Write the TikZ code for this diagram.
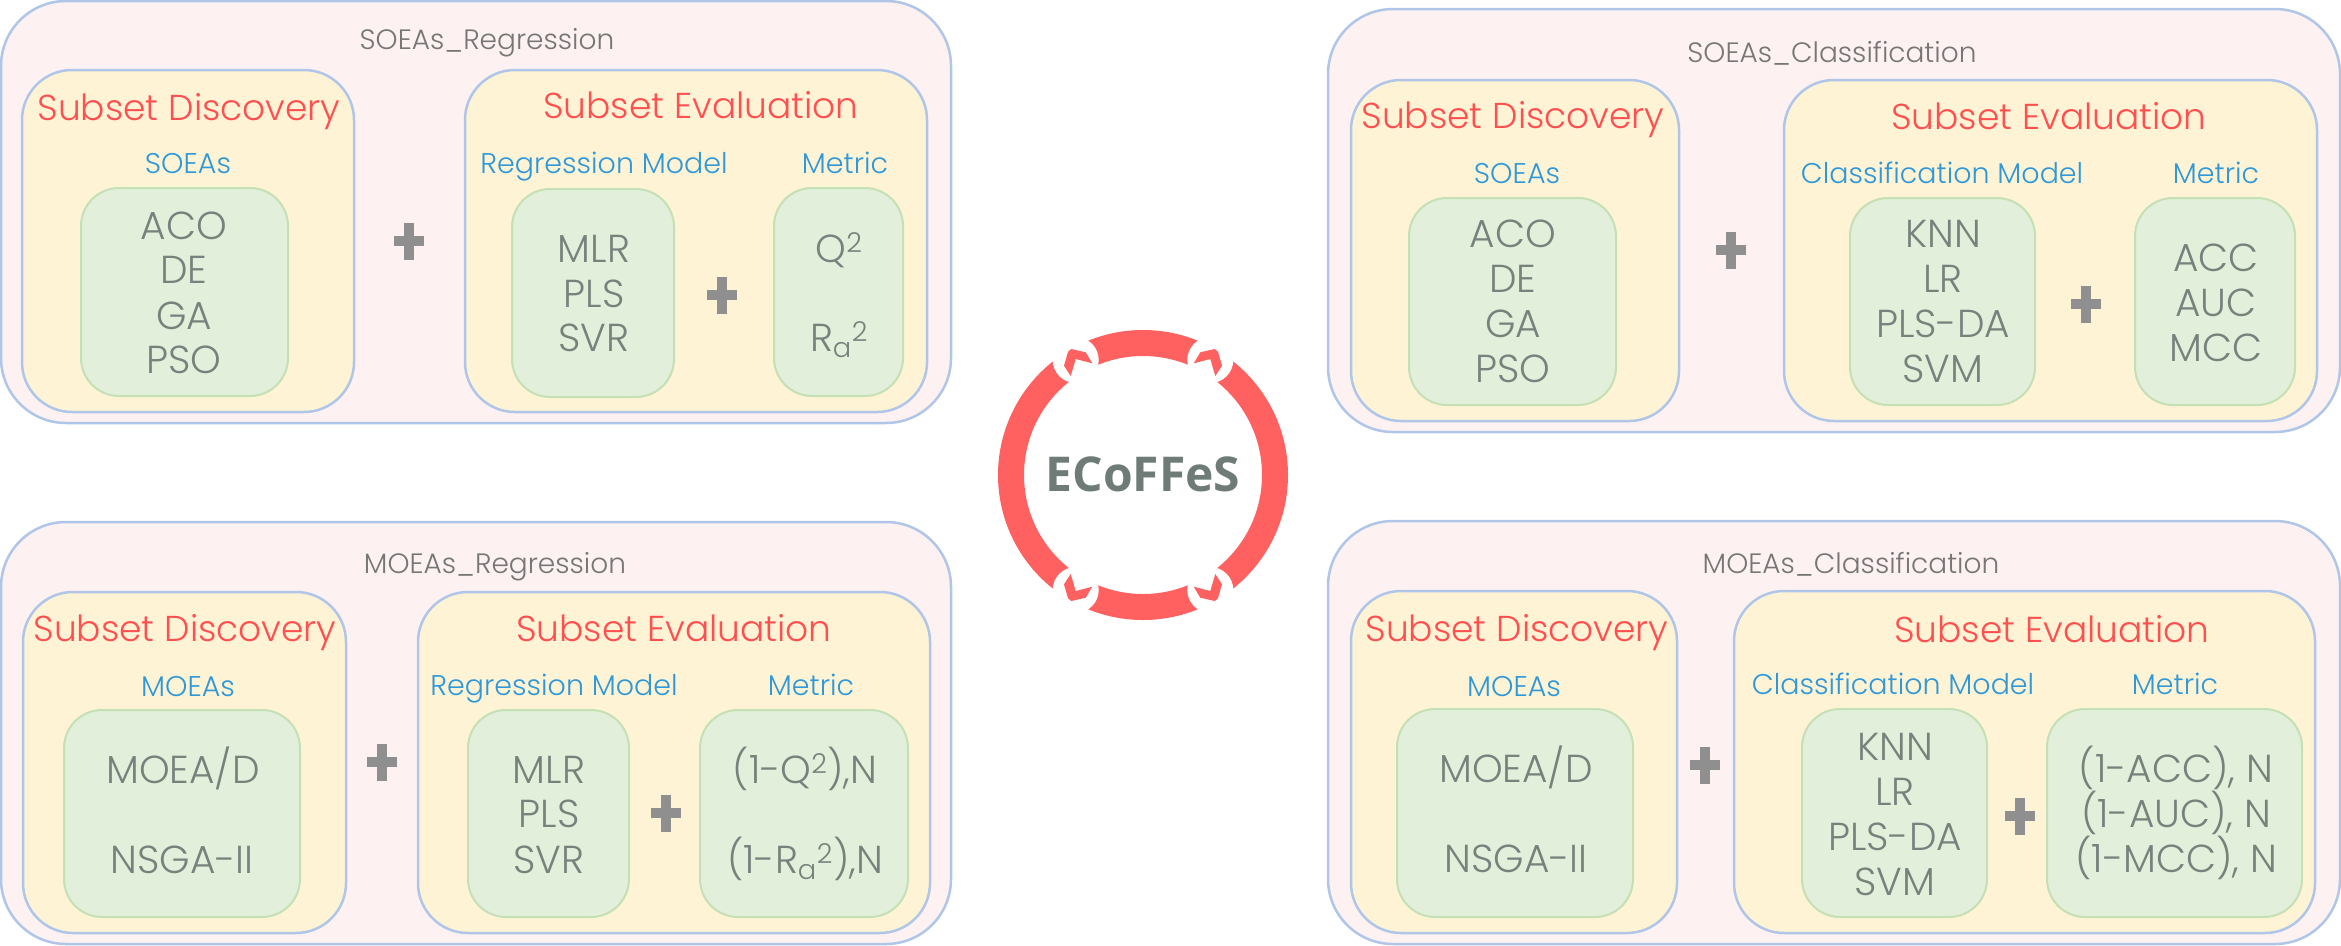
\documentclass[tikz,border=0pt]{standalone}
\usepackage{fontspec}
\setmainfont{Poppins}[UprightFont=* Light]
\newfontfamily\boldf{Open Sans}[UprightFont=* Bold]
\definecolor{pinkf}{HTML}{FDF1F1}
\definecolor{bluel}{HTML}{B0C6E8}
\definecolor{yelf}{HTML}{FFF3D6}
\definecolor{grnf}{HTML}{E2EFDA}
\definecolor{grnl}{HTML}{C5E0B4}
\definecolor{redh}{HTML}{FF4F4F}
\definecolor{ringc}{HTML}{FF6060}
\definecolor{blueh}{HTML}{2F98D8}
\definecolor{graya}{HTML}{767676}
\definecolor{grayb}{HTML}{76827C}
\definecolor{grayp}{HTML}{8F8F8F}
\definecolor{grayc}{HTML}{6F7B76}
\tikzset{
 x=1pt,y=-1pt,
 boxbase/.style={rectangle,inner sep=0pt,outer sep=0pt},
 panelbox/.style={boxbase,fill=pinkf,draw=bluel,line width=2.5pt,rounded corners=65pt},
 partbox/.style={boxbase,fill=yelf,draw=bluel,line width=2.5pt,rounded corners=50pt},
 itembox/.style={boxbase,fill=grnf,draw=grnl,line width=2pt,rounded corners=38pt},
 txt/.style={inner sep=0pt,outer sep=0pt,align=center},
 title/.style={txt,text=graya,font=\fontsize{28}{28}\selectfont,text height=20pt,text depth=0pt},
 head/.style={txt,text=redh,font=\fontsize{36}{36}\selectfont,text height=26pt,text depth=0pt},
 lab/.style={txt,text=blueh,font=\fontsize{28.5}{28.5}\selectfont,text height=20pt,text depth=0pt},
 entry/.style={txt,text=grayb,font=\fontsize{39}{39}\selectfont,text height=28pt,text depth=0pt},
 plusbar/.style={fill=grayp},
 ringpart/.style={fill=ringc},
}
\newcommand{\bx}[6]{\node[#1,minimum width={(#5-#3)*1pt},minimum height={(#6-#4)*1pt}] (#2) at ({(#3+#5)/2},{(#4+#6)/2}) {};}
\newcommand{\tx}[5]{\node[#1] (#2) at (#3,#4) {#5};}
\newcommand{\plusm}[2]{\fill[plusbar] (#1-5,#2-18.5) rectangle (#1+5,#2+18.5);\fill[plusbar] (#1-15,#2-5) rectangle (#1+15,#2+5);}
\newcommand{\chev}[2]{\fill[ringpart,shift={(1143,475)},xscale=#1,yscale=#2] (50.7,-111.7) -- (57.3,-122.7) -- (71.7,-126) -- (75,-123.3) -- (79,-109.3) -- (72.3,-99) -- (67.3,-116) -- cycle;}
\begin{document}
\begin{tikzpicture}
\useasboundingbox (0,0) rectangle (2341,945);
% TL
\bx{panelbox}{tlp}{1}{1}{951}{423}
\bx{partbox}{tld}{22}{70}{354}{412}
\bx{partbox}{tle}{465}{70}{927}{412}
\bx{itembox}{tlg1}{81}{188}{288}{396}
\bx{itembox}{tlg2}{512}{189}{674}{397}
\bx{itembox}{tlg3}{774}{188}{903}{396}
\tx{title}{tlt}{487}{39}{SOEAs\_Regression}
\tx{head}{tlsd}{189}{107}{Subset Discovery}
\tx{head}{tlse}{701}{105}{Subset Evaluation}
\tx{lab}{tll1}{188}{163}{SOEAs}
\tx{lab}{tll2}{604}{163}{Regression Model}
\tx{lab}{tll3}{845}{163}{Metric}
\tx{entry}{tla1}{184}{225}{ACO}
\tx{entry}{tla2}{184}{269}{DE}
\tx{entry}{tla3}{184}{315}{GA}
\tx{entry}{tla4}{184}{359}{PSO}
\tx{entry}{tlb1}{594}{248}{MLR}
\tx{entry}{tlb2}{594}{293}{PLS}
\tx{entry}{tlb3}{594}{337}{SVR}
\tx{entry}{tlc1}{839}{248}{Q\textsuperscript{2}}
\tx{entry}{tlc2}{839}{337}{R\textsubscript{a}\textsuperscript{2}}
\plusm{409}{241}\plusm{722}{295}
% BL
\bx{panelbox}{blp}{1}{522}{951}{944}
\bx{partbox}{bld}{23}{592}{346}{933}
\bx{partbox}{ble}{418}{592}{930}{933}
\bx{itembox}{blg1}{64}{710}{300}{917}
\bx{itembox}{blg2}{468}{710}{629}{917}
\bx{itembox}{blg3}{700}{710}{908}{917}
\tx{title}{blt}{495}{563}{MOEAs\_Regression}
\tx{head}{blsd}{185}{628}{Subset Discovery}
\tx{head}{blse}{674}{628}{Subset Evaluation}
\tx{lab}{bll1}{188}{686}{MOEAs}
\tx{lab}{bll2}{554}{685}{Regression Model}
\tx{lab}{bll3}{811}{685}{Metric}
\tx{entry}{bla1}{183}{769}{MOEA/D}
\tx{entry}{bla2}{182}{859}{NSGA-II}
\tx{entry}{blb1}{549}{769}{MLR}
\tx{entry}{blb2}{549}{813}{PLS}
\tx{entry}{blb3}{549}{859}{SVR}
\tx{entry}{blc1}{805}{769}{(1-Q\textsuperscript{2}),N}
\tx{entry}{blc2}{805}{859}{(1-R\textsubscript{a}\textsuperscript{2}),N}
\plusm{382}{762}\plusm{666}{813}
% TR
\bx{panelbox}{trp}{1328}{9}{2340}{432}
\bx{partbox}{trd}{1351}{80}{1679}{421}
\bx{partbox}{tre}{1784}{80}{2317}{421}
\bx{itembox}{trg1}{1409}{198}{1616}{405}
\bx{itembox}{trg2}{1850}{198}{2035}{405}
\bx{itembox}{trg3}{2135}{198}{2295}{405}
\tx{title}{trt}{1832}{52}{SOEAs\_Classification}
\tx{head}{trsd}{1513}{115}{Subset Discovery}
\tx{head}{trse}{2049}{116}{Subset Evaluation}
\tx{lab}{trl1}{1517}{173}{SOEAs}
\tx{lab}{trl2}{1942}{173}{Classification Model}
\tx{lab}{trl3}{2216}{173}{Metric}
\tx{entry}{tra1}{1513}{233}{ACO}
\tx{entry}{tra2}{1513}{278}{DE}
\tx{entry}{tra3}{1513}{323}{GA}
\tx{entry}{tra4}{1513}{368}{PSO}
\tx{entry}{trb1}{1943}{233}{KNN}
\tx{entry}{trb2}{1943}{278}{LR}
\tx{entry}{trb3}{1943}{323}{PLS-DA}
\tx{entry}{trb4}{1943}{368}{SVM}
\tx{entry}{trc1}{2216}{257}{ACC}
\tx{entry}{trc2}{2216}{302}{AUC}
\tx{entry}{trc3}{2216}{347}{MCC}
\plusm{1731}{250}\plusm{2086}{304}
% BR
\bx{panelbox}{brp}{1328}{521}{2340}{944}
\bx{partbox}{brd}{1351}{591}{1677}{933}
\bx{partbox}{bre}{1734}{591}{2315}{933}
\bx{itembox}{brg1}{1397}{709}{1633}{917}
\bx{itembox}{brg2}{1802}{709}{1987}{917}
\bx{itembox}{brg3}{2047}{709}{2302}{917}
\tx{title}{brt}{1851}{563}{MOEAs\_Classification}
\tx{head}{brsd}{1517}{628}{Subset Discovery}
\tx{head}{brse}{2052}{629}{Subset Evaluation}
\tx{lab}{brl1}{1514}{686}{MOEAs}
\tx{lab}{brl2}{1893}{684}{Classification Model}
\tx{lab}{brl3}{2175}{684}{Metric}
\tx{entry}{bra1}{1516}{768}{MOEA/D}
\tx{entry}{bra2}{1516}{858}{NSGA-II}
\tx{entry}{brb1}{1895}{746}{KNN}
\tx{entry}{brb2}{1895}{791}{LR}
\tx{entry}{brb3}{1895}{836}{PLS-DA}
\tx{entry}{brb4}{1895}{881}{SVM}
\tx{entry}{brc1}{2176}{768}{(1-ACC), N}
\tx{entry}{brc2}{2176}{813}{(1-AUC), N}
\tx{entry}{brc3}{2176}{858}{(1-MCC), N}
\plusm{1705}{765}\plusm{2020}{816}
% ring
\fill[ringpart,even odd rule] (1143,475) circle[radius=145] (1143,475) circle[radius=119];
\foreach \sx/\sy in {1/1,-1/1,1/-1,-1/-1}{
 \fill[white] ({1143+\sx*67.3},{475+\sy*-115}) circle[radius=23];
 \chev{\sx}{\sy}
}
\node[txt,text=grayc,font=\boldf\fontsize{48}{48}\selectfont] (eco) at (1143,474) {ECoFFeS};
\end{tikzpicture}
\end{document}
